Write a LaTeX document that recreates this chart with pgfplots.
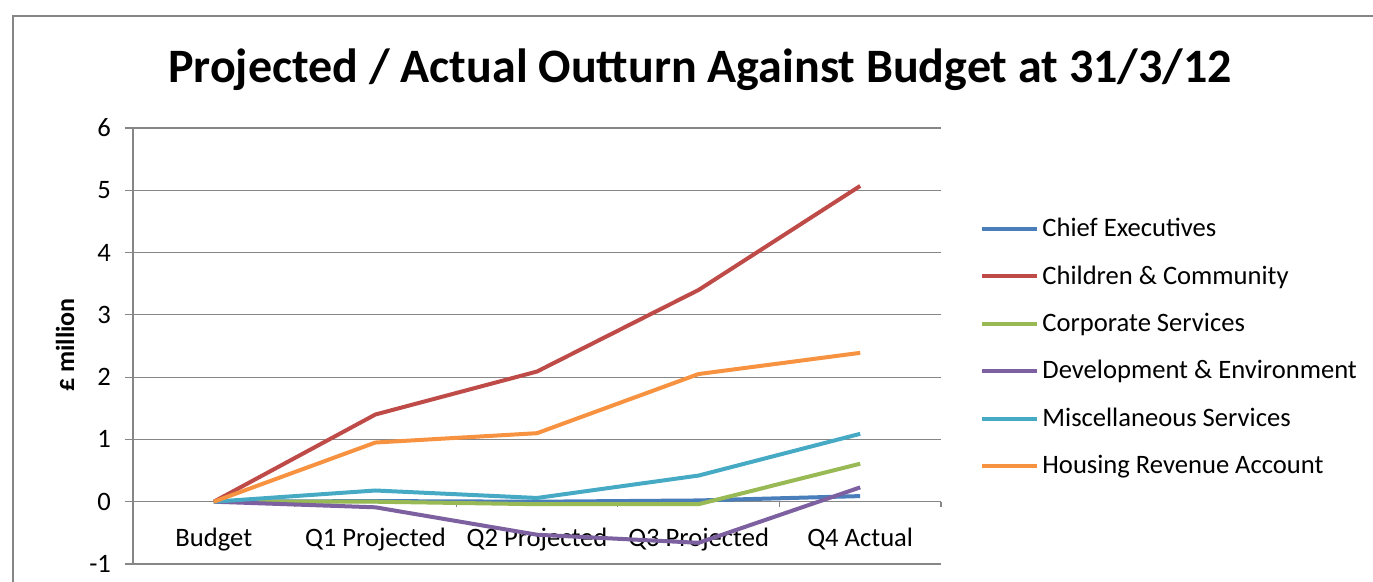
\documentclass[border=0pt]{standalone}
\usepackage{pgfplots}
\pgfplotsset{compat=1.18}
\usepackage{fontspec}
\setmainfont{Carlito}
\definecolor{gridc}{RGB}{134,134,134}
\definecolor{cBlue}{RGB}{74,126,187}
\definecolor{cRed}{RGB}{190,75,72}
\definecolor{cGreen}{RGB}{152,185,84}
\definecolor{cPurple}{RGB}{125,96,160}
\definecolor{cTeal}{RGB}{70,170,197}
\definecolor{cOrange}{RGB}{246,146,64}
\begin{document}
\begin{tikzpicture}
\useasboundingbox (0,0) rectangle (686.5pt,291pt);
\draw[gridc, line width=1pt] (6.5pt,-2pt) -- (6.5pt,283pt) -- (690pt,283pt);
\node[anchor=base, font=\fontsize{24}{28}\selectfont\bfseries] at (350pt,249.5pt) {Projected / Actual Outturn Against Budget at 31/3/12};
\node[rotate=90, font=\fontsize{13}{15}\selectfont\bfseries] at (32.5pt,118.5pt) {£ million};
\begin{axis}[
  at={(66.5pt,9pt)}, anchor=south west,
  scale only axis, width=404pt, height=218pt,
  xmin=-0.5, xmax=4.5, ymin=-1, ymax=6,
  axis x line*=middle, axis y line*=left,
  axis line style={gridc, line width=0.6pt},
  xtick={0,...,4},
  xticklabels={Budget, Q1 Projected, Q2 Projected, Q3 Projected, Q4 Actual},
  minor xtick={0.5,1.5,2.5,3.5,4.5},
  ytick={-1,...,6},
  ymajorgrids, grid style={gridc, line width=0.6pt},
  tick align=outside, major tick length=4pt, minor tick length=2.5pt,
  major x tick style={draw=none},
  tick style={gridc, line width=0.6pt},
  ticklabel style={font=\fontsize{13.3}{15}\selectfont, text=black},
  /pgf/number format/assume math mode=true,
  yticklabel style={xshift=-3.5pt},
  xticklabel style={yshift=-5.5pt},
  legend style={draw=none, fill=none, at={(1.0483,0.497)}, anchor=west,
    font=\fontsize{13.3}{15}\selectfont, row sep=10pt, inner sep=0pt,
    nodes={inner sep=1.5pt}},
  legend cell align=left,
  legend image code/.code={\draw[#1] (0pt,0pt) -- (27.5pt,0pt);},
  every axis plot/.append style={line width=2pt},
]
\addplot[cBlue] coordinates {(0,0)(1,0.01)(2,0.0)(3,0.02)(4,0.09)};
\addlegendentry{Chief Executives}
\addplot[cRed] coordinates {(0,0)(1,1.40)(2,2.09)(3,3.40)(4,5.07)};
\addlegendentry{Children \& Community}
\addplot[cGreen] coordinates {(0,0)(1,0.0)(2,-0.04)(3,-0.04)(4,0.61)};
\addlegendentry{Corporate Services}
\addplot[cPurple] coordinates {(0,0)(1,-0.09)(2,-0.53)(3,-0.66)(4,0.23)};
\addlegendentry{Development \& Environment}
\addplot[cTeal] coordinates {(0,0)(1,0.18)(2,0.06)(3,0.42)(4,1.09)};
\addlegendentry{Miscellaneous Services}
\addplot[cOrange] coordinates {(0,0)(1,0.95)(2,1.10)(3,2.05)(4,2.39)};
\addlegendentry{Housing Revenue Account}
\end{axis}
\end{tikzpicture}
\end{document}
